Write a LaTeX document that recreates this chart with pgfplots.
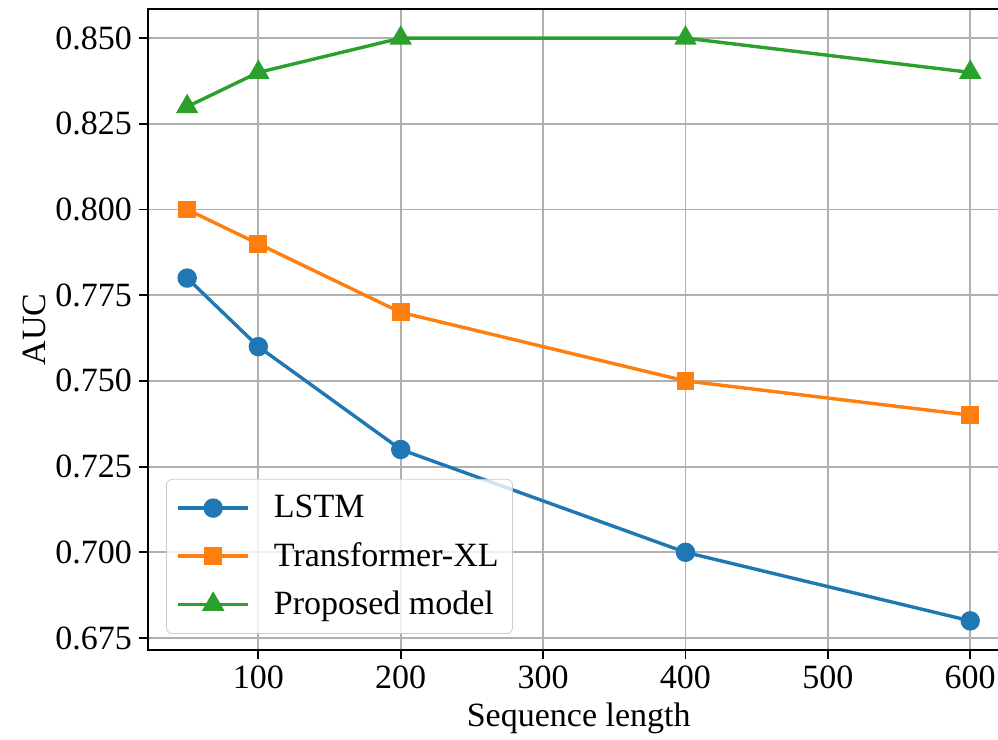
\documentclass[border=0pt]{standalone}
\usepackage{pgfplots}
\pgfplotsset{compat=1.18}
\usepackage{fontspec}
\setmainfont{Liberation Serif}
\definecolor{c1}{HTML}{1F77B4}
\definecolor{c2}{HTML}{FF7F0E}
\definecolor{c3}{HTML}{2CA02C}
\begin{document}
\begin{tikzpicture}
\useasboundingbox (-74pt,-45pt) rectangle (425pt,325pt);
\begin{axis}[
  at={(0,0)}, anchor=south west,
  scale only axis,
  width=430.7pt, height=320.5pt,
  xmin=22.5, xmax=627.5,
  ymin=0.6715, ymax=0.8585,
  xtick={100,200,300,400,500,600},
  ytick={0.675,0.700,0.725,0.750,0.775,0.800,0.825,0.850},
  yticklabel style={/pgf/number format/.cd,fixed,fixed zerofill,precision=3},
  /pgf/number format/assume math mode=true,
  tick label style={font=\rmfamily\fontsize{17}{20}\selectfont},
  label style={font=\rmfamily\fontsize{17}{20}\selectfont},
  xlabel={Sequence length},
  ylabel={AUC},
  xlabel style={yshift=0pt},
  ylabel style={yshift=-2pt},
  grid=major,
  major grid style={color=black!31, line width=0.9pt},
  axis line style={line width=1pt},
  tick align=outside,
  major tick length=4.5pt,
  tick style={line width=0.9pt, black},
  xtick pos=bottom, ytick pos=left,
  legend style={at={(0.021,0.025)}, anchor=south west,
    draw=black!20, rounded corners=3pt, fill=white, fill opacity=0.8, text opacity=1,
    font=\rmfamily\fontsize{17}{20}\selectfont, row sep=6.8pt, inner xsep=5pt, inner ysep=6pt,
    /tikz/every odd column/.append style={column sep=10pt}},
  legend cell align=left,
  legend image code/.code={\draw[mark repeat=2,mark phase=2,#1,opacity=1] plot coordinates {(0pt,0pt) (17.5pt,0pt) (35pt,0pt)};},
]
\addplot[c1, line width=1.7pt, mark=*, mark size=4pt, mark options={fill=c1, draw=c1}] coordinates {
(50,0.780) (100,0.760) (200,0.730) (400,0.700) (600,0.680)};
\addlegendentry{LSTM}
\addplot[c2, line width=1.7pt, mark=square*, mark size=3.6pt, mark options={fill=c2, draw=c2}] coordinates {
(50,0.800) (100,0.790) (200,0.770) (400,0.750) (600,0.740)};
\addlegendentry{Transformer-XL}
\addplot[c3, line width=1.7pt, mark=triangle*, mark size=4.8pt, mark options={fill=c3, draw=c3}] coordinates {
(50,0.830) (100,0.840) (200,0.850) (400,0.850) (600,0.840)};
\addlegendentry{Proposed model}
\end{axis}
\end{tikzpicture}
\end{document}
